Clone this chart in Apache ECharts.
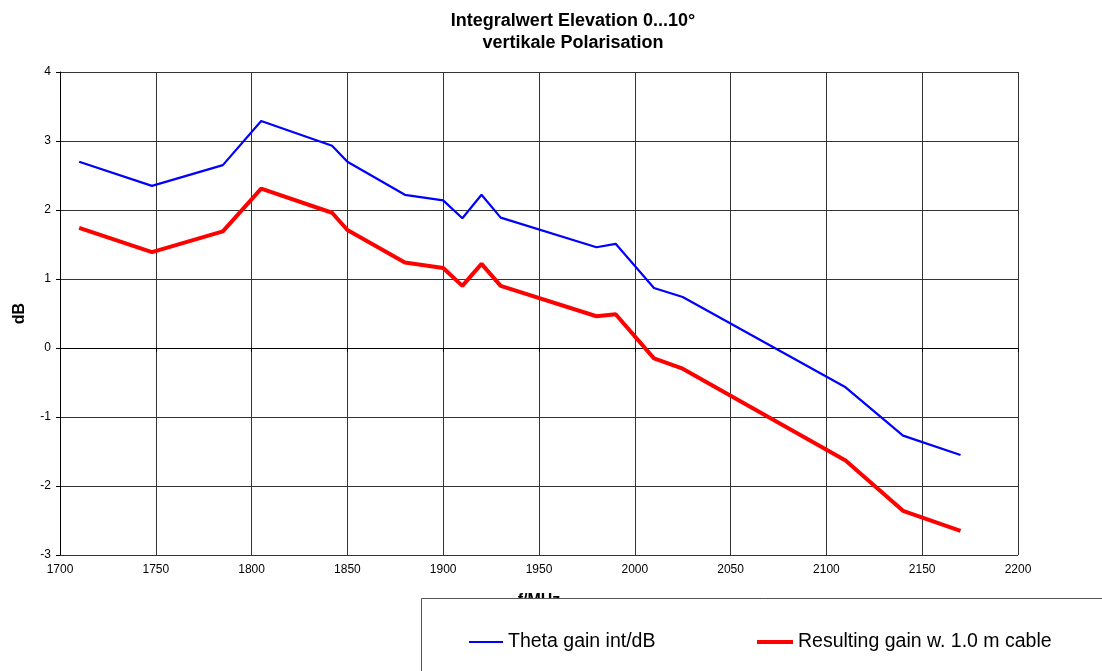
<!DOCTYPE html>
<html>
<head>
<meta charset="utf-8">
<script src="https://cdn.jsdelivr.net/npm/echarts@6/dist/echarts.min.js"></script>
<style>
  html, body { margin: 0; padding: 0; background: #fff; }
  #chart { width: 1102px; height: 671px; }
</style>
</head>
<body>
<div id="chart"></div>
<script>
// frequencies (MHz)
var freq = [1710, 1748, 1785, 1805, 1842, 1850, 1880, 1900, 1910, 1920, 1930, 1980, 1990, 2010, 2025, 2110, 2140, 2170];
// Theta gain int/dB
var thetaGain = [2.70, 2.35, 2.65, 3.29, 2.93, 2.70, 2.22, 2.14, 1.88, 2.22, 1.89, 1.46, 1.51, 0.87, 0.74, -0.57, -1.27, -1.55];
// Resulting gain w. 1.0 m cable
var resultGain = [1.74, 1.39, 1.69, 2.31, 1.96, 1.71, 1.24, 1.16, 0.90, 1.22, 0.90, 0.46, 0.49, -0.15, -0.30, -1.63, -2.36, -2.65];

var seriesNames = ['Theta gain int/dB', 'Resulting gain w. 1.0 m cable'];

function pairs (xs, ys) {
  var out = [];
  for (var i = 0; i < xs.length; i++) {
    out.push([xs[i], ys[i]]);
  }
  return out;
}

var chart = echarts.init(document.getElementById('chart'));

var fontName = 'Liberation Sans, Arial, sans-serif';
var legendText = { fontSize: 19.5, color: '#000', fontFamily: fontName };

var option = {
  backgroundColor: '#fff',
  animation: false,
  textStyle: { fontFamily: fontName },
  title: {
    text: 'Integralwert Elevation 0...10°\nvertikale Polarisation',
    left: 568,
    top: 5,
    textAlign: 'center',
    textStyle: {
      fontSize: 18,
      fontWeight: 'bold',
      color: '#000',
      lineHeight: 22,
      fontFamily: fontName
    }
  },
  grid: {
    left: 60,
    right: 84,
    top: 72,
    bottom: 116
  },
  xAxis: {
    type: 'value',
    min: 1700,
    max: 2200,
    interval: 50,
    name: 'f/MHz',
    nameLocation: 'middle',
    nameGap: 38,
    nameTextStyle: { fontSize: 16, fontWeight: 'bold', color: '#000' },
    axisLine: { show: true, lineStyle: { color: '#000', width: 1 } },
    axisTick: { show: true, length: 4, lineStyle: { color: '#000' } },
    axisLabel: { fontSize: 12, color: '#000', margin: 9, formatter: function (v) { return String(v); } },
    splitLine: { show: true, lineStyle: { color: '#333', width: 1 } }
  },
  yAxis: {
    type: 'value',
    min: -3,
    max: 4,
    interval: 1,
    name: 'dB',
    nameLocation: 'middle',
    nameGap: 32,
    nameTextStyle: { fontSize: 16, fontWeight: 'bold', color: '#000' },
    axisLine: { show: true, lineStyle: { color: '#000', width: 1 } },
    axisTick: { show: true, length: 4, lineStyle: { color: '#000' } },
    axisLabel: { fontSize: 12, color: '#000', margin: 9 },
    splitLine: { show: true, lineStyle: { color: '#333', width: 1 } }
  },
  graphic: [
    {
      type: 'rect',
      z: 100,
      shape: { x: 421.5, y: 598.5, width: 720, height: 120 },
      style: { fill: '#fff', stroke: '#555', lineWidth: 1 }
    }
  ],
  legend: [
    {
      z: 110,
      left: 464,
      top: 627,
      icon: 'rect',
      itemWidth: 34,
      itemHeight: 2,
      itemGap: 0,
      textStyle: legendText,
      data: [seriesNames[0]]
    },
    {
      z: 110,
      left: 752,
      top: 627,
      icon: 'rect',
      itemWidth: 36,
      itemHeight: 4,
      itemGap: 0,
      textStyle: legendText,
      data: [seriesNames[1]]
    }
  ],
  series: [
    {
      name: seriesNames[0],
      type: 'line',
      data: pairs(freq, thetaGain),
      showSymbol: false,
      symbol: 'none',
      color: '#0000ff',
      lineStyle: { color: '#0000ff', width: 2.2 },
      z: 3
    },
    {
      name: seriesNames[1],
      type: 'line',
      data: pairs(freq, resultGain),
      showSymbol: false,
      symbol: 'none',
      color: '#ff0000',
      lineStyle: { color: '#ff0000', width: 4 },
      z: 4
    }
  ]
};

chart.setOption(option);
</script>
</body>
</html>
